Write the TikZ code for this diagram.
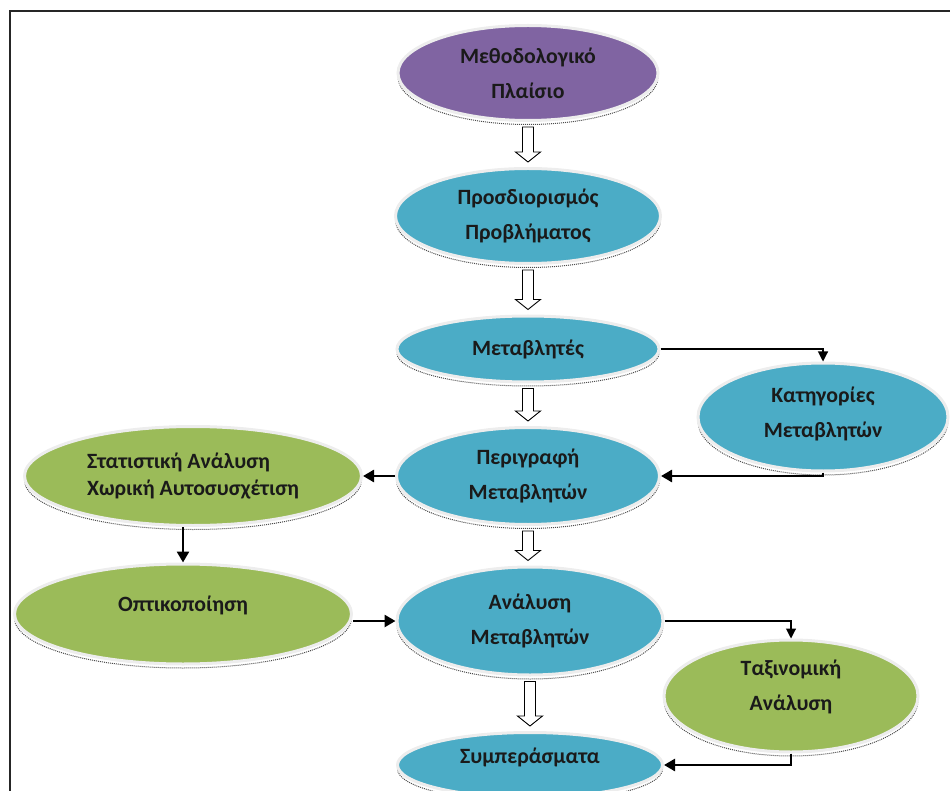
\documentclass[tikz,border=0pt]{standalone}
\usepackage{fontspec}
\setmainfont{Carlito}
\usetikzlibrary{shapes.geometric,arrows.meta,calc}
\definecolor{cpurple}{HTML}{8064A2}
\definecolor{cteal}{HTML}{4BACC6}
\definecolor{cgreen}{HTML}{9BBB59}
\definecolor{ctext}{HTML}{1A1A1A}
\begin{document}
\begin{tikzpicture}[x=1pt,y=-1pt,
  ell/.style={ellipse, inner sep=0pt, fill=#1, draw=black!7, line width=3pt,
    text=ctext, font=\bfseries\fontsize{21.8}{35}\selectfont, align=center,
    preaction={draw=black!70, fill=none, densely dotted, line width=1pt,
      transform canvas={yshift=-4pt}}},
  lbl/.style={text=ctext, font=\bfseries\fontsize{21.8}{35}\selectfont, align=center},
  hollow/.style={draw=black, line width=0.9pt, fill=white,
    to path={let \p1=(\tikztostart), \p2=(\tikztotarget) in
      (\x1-5.5pt,\y1-5pt) -- (\x1+5.5pt,\y1-5pt) -- (\x1+5.5pt,\y2+15pt)
      -- (\x1+12.5pt,\y2+15pt) -- (\x1,\y2+5pt) -- (\x1-12.5pt,\y2+15pt)
      -- (\x1-5.5pt,\y2+15pt) -- cycle}},
  thin/.style={draw=black, line width=1.1pt, -{Triangle[length=10pt,width=10pt]}},
  thick/.style={draw=black, line width=2.6pt, -{Triangle[length=11pt,width=12pt]}}
]
\useasboundingbox (0,0) rectangle (950,791);
\draw[line width=2pt, black!85] (10,795) -- (10,11) -- (955,11);

\node[ell=cpurple, minimum width=260, minimum height=95] (meth) at (528,73) {Μεθοδολογικό\\Πλαίσιο};
\node[ell=cteal, minimum width=265, minimum height=95] (prob) at (528,216) {Προσδιορισμός\\Προβλήματος};
\node[ell=cteal, minimum width=262, minimum height=66] (metab) at (528,349) {Μεταβλητές};
\node[ell=cteal, minimum width=250, minimum height=108,
  label={[lbl,yshift=3pt]center:{Κατηγορίες\\Μεταβλητών}}] (kat) at (823,417) {};
\node[ell=cteal, minimum width=263, minimum height=97] (perig) at (528,476) {Περιγραφή\\Μεταβλητών};
\node[ell=cgreen, minimum width=337, minimum height=99,
  font=\bfseries\fontsize{21.8}{27}\selectfont, align=left] (stat) at (193,476) {Στατιστική Ανάλυση\\Χωρική Αυτοσυσχέτιση};
\node[ell=cgreen, minimum width=337, minimum height=100,
  label={[lbl,yshift=9pt]center:Οπτικοποίηση}] (opt) at (183,614) {};
\node[ell=cteal, minimum width=266, minimum height=108] (anal) at (530,621) {Ανάλυση\\Μεταβλητών};
\node[ell=cgreen, minimum width=254, minimum height=112,
  label={[lbl,yshift=9pt]center:{Ταξινομική\\Ανάλυση}}] (tax) at (791,696) {};
\node[ell=cteal, minimum width=265, minimum height=65,
  label={[lbl,yshift=8pt]center:Συμπεράσματα}] (symp) at (530,765) {};

\draw[hollow] (meth.south) to (prob.north);
\draw[hollow] (prob.south) to (metab.north);
\draw[hollow] (metab.south) to (perig.north);
\draw[hollow] (perig.south) to (anal.north);
\draw[hollow] (anal.south) to (symp.north);

\draw[thin] (metab.east) -| (kat.north);
\draw[thick] (kat.south) |- (perig.east);
\draw[thick] (perig.west) -- (stat.east);
\draw[thick] (opt.north |- stat.south) -- (opt.north);
\draw[thick] (opt.east |- anal.west) -- (anal.west);
\draw[thin] (anal.east) -| (tax.north);
\draw[thick] (tax.south) |- (symp.east);
\end{tikzpicture}
\end{document}
